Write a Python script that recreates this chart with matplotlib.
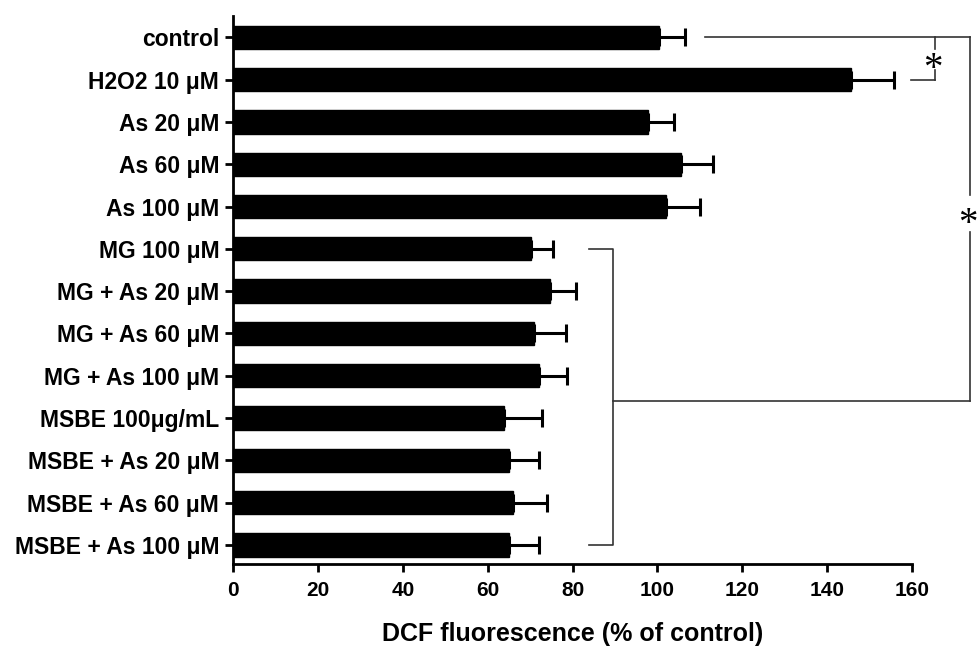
import matplotlib
matplotlib.use("Agg")
import matplotlib.pyplot as plt
import numpy as np

categories = ["control", "H2O2 10 μM", "As 20 μM", "As 60 μM", "As 100 μM",
              "MG 100 μM", "MG + As 20 μM", "MG + As 60 μM", "MG + As 100 μM",
              "MSBE 100μg/mL", "MSBE + As 20 μM", "MSBE + As 60 μM", "MSBE + As 100 μM"]
means = [100.3, 145.7, 97.9, 105.6, 102.0, 70.3, 74.6, 71.0, 72.0, 63.8, 65.0, 65.9, 65.1]
upper = [106.5, 155.8, 103.9, 113.1, 110.1, 75.5, 80.9, 78.4, 78.7, 72.7, 72.0, 74.0, 72.2]
errors = [u - m for u, m in zip(upper, means)]
xticks = [0, 20, 40, 60, 80, 100, 120, 140, 160]

plt.rcParams['font.family'] = ['Liberation Sans', 'DejaVu Sans']

fig = plt.figure(figsize=(9.77, 6.46), dpi=100)
ax = fig.add_axes([0.2385, 0.127, 0.695, 0.848])

y = np.arange(len(categories))
ax.barh(y, means, height=0.55, color='black', edgecolor='black')
ax.errorbar(means, y, xerr=[np.zeros(len(errors)), errors], fmt='none',
            ecolor='black', elinewidth=2.2, capsize=6.5, capthick=2.2)

ax.set_ylim(12.45, -0.5)
ax.set_xlim(0, 160)
ax.set_yticks(y)
ax.set_yticklabels(categories, fontsize=16.5, fontweight='bold')
ax.set_xticks(xticks)
ax.set_xticklabels([str(t) for t in xticks], fontsize=15, fontweight='bold')
ax.tick_params(axis='both', direction='out', length=6, width=2, pad=4)
ax.tick_params(axis='x', pad=6)
for s in ['top', 'right']:
    ax.spines[s].set_visible(False)
for s in ['left', 'bottom']:
    ax.spines[s].set_linewidth(2)

ax.set_xlabel("DCF fluorescence (% of control)", fontsize=18, fontweight='bold', labelpad=16)

lk = dict(color='#333333', lw=1.2, clip_on=False)
# top bracket: control line to right edge
ax.plot([111.3, 173.6], [0, 0], **lk)
# inner bracket control vs H2O2
ax.plot([165.3, 165.3], [0, 0.28], **lk)
ax.plot([165.3, 165.3], [0.78, 1], **lk)
ax.plot([159.8, 165.3], [1, 1], **lk)
ax.text(165.0, 0.76, "*", fontsize=28, family='Liberation Serif', ha='center', va='center')
# big bracket
ax.plot([173.6, 173.6], [0, 3.73], **lk)
ax.plot([173.6, 173.6], [4.6, 8.6], **lk)
ax.text(173.2, 4.42, "*", fontsize=28, family='Liberation Serif', ha='center', va='center')
ax.plot([89.5, 173.6], [8.6, 8.6], **lk)
# group bracket
ax.plot([83.9, 89.5, 89.5, 83.9], [5, 5, 12, 12], **lk)

fig.savefig("out.png", dpi=100)
